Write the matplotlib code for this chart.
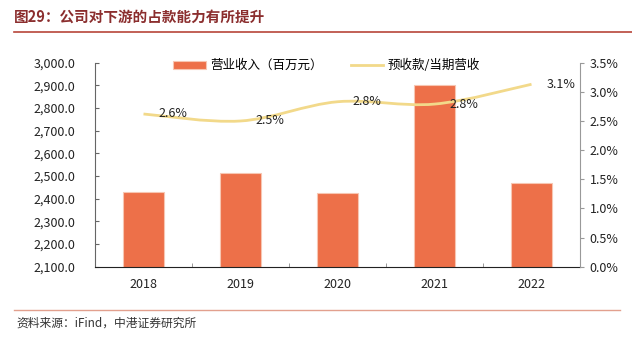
import matplotlib
matplotlib.use('Agg')
import matplotlib.pyplot as plt
from matplotlib.path import Path
from matplotlib.patches import PathPatch, Patch
from matplotlib.lines import Line2D
from matplotlib.ticker import FuncFormatter, MultipleLocator, FixedLocator
import numpy as np

years = ['2018', '2019', '2020', '2021', '2022']
revenue = [2428, 2512, 2426, 2902, 2468]
ratio = [2.62, 2.50, 2.83, 2.79, 3.13]
ratio_labels = ['2.6%', '2.5%', '2.8%', '2.8%', '3.1%']
title = '图29：公司对下游的占款能力有所提升'
source = '资料来源：iFind，中港证券研究所'
bar_name = '营业收入（百万元）'
line_name = '预收款/当期营收'

plt.rcParams['font.family'] = ['Noto Sans CJK SC', 'DejaVu Sans']

W, H = 632, 340
fig = plt.figure(figsize=(W / 100, H / 100), dpi=100)
ax = fig.add_axes([95 / W, 1 - 266.7 / H, (580 - 95) / W, (266.7 - 62.7) / H])

bar_color = '#ED7049'
line_color = '#F2D98A'
x = np.arange(len(years))
ax.bar(x, revenue, width=0.42, color=bar_color, edgecolor='#F7C6B2', linewidth=0.8, zorder=2)
ax.set_xlim(-0.5, len(years) - 0.5)
ax.set_ylim(2100, 3000)
ax.yaxis.set_major_locator(MultipleLocator(100))
ax.yaxis.set_major_formatter(FuncFormatter(lambda v, p: f'{v:,.1f}'))
ax.set_xticks(x)
ax.set_xticklabels(years)
ax.xaxis.set_minor_locator(FixedLocator(np.arange(-0.5, len(years), 1.0)))
ax.tick_params(axis='x', which='major', length=0, pad=8, labelsize=9, colors='#222222')
ax.tick_params(axis='x', which='minor', length=3, direction='in', color='#888888')
ax.tick_params(axis='y', direction='in', length=3, labelsize=9, pad=14, colors='#222222', color='#666666')
for s in ['top', 'right']:
    ax.spines[s].set_visible(False)
ax.spines['left'].set_color('#666666')
ax.spines['bottom'].set_color('#222222')

ax2 = ax.twinx()
ax2.set_ylim(0, 3.5)
ax2.yaxis.set_major_locator(MultipleLocator(0.5))
ax2.yaxis.set_major_formatter(FuncFormatter(lambda v, p: f'{v:.1f}%'))
ax2.tick_params(axis='y', direction='out', length=3, labelsize=9, pad=4, colors='#222222', color='#999999')
for s in ['top', 'left', 'bottom']:
    ax2.spines[s].set_visible(False)
ax2.spines['right'].set_color('#999999')

# smooth line (Catmull-Rom to Bezier) through data points
pts = np.column_stack([x, ratio]).astype(float)
n = len(pts)
verts = [pts[0]]
codes = [Path.MOVETO]
for i in range(n - 1):
    p0 = pts[i - 1] if i > 0 else pts[i]
    p1 = pts[i]
    p2 = pts[i + 1]
    p3 = pts[i + 2] if i + 2 < n else pts[i + 1]
    c1 = p1 + (p2 - p0) / 6.0
    c2 = p2 - (p3 - p1) / 6.0
    verts += [c1, c2, p2]
    codes += [Path.CURVE4] * 3
ax2.add_patch(PathPatch(Path(verts, codes), facecolor='none', edgecolor=line_color, lw=2.0, zorder=3))

for xi, yi, lab in zip(x, ratio, ratio_labels):
    ax2.annotate(lab, (xi, yi), xytext=(11, 0), textcoords='offset points',
                 ha='left', va='center', fontsize=9, color='#222222', zorder=4)

handles = [Patch(facecolor=bar_color, edgecolor='#F7C6B2', linewidth=0.8),
           Line2D([0], [0], color=line_color, lw=2.0)]
fig.legend(handles, [bar_name, line_name], loc='center', bbox_to_anchor=(0.517, 1 - 65.7 / H),
           ncol=2, frameon=False, fontsize=9, handlelength=2.6, handleheight=0.6,
           columnspacing=2.2, handletextpad=0.4)

fig.text(14 / W, 1 - 17 / H, title, ha='left', va='center', fontsize=10.5, fontweight='bold', color='#8B2E2E')
fig.add_artist(Line2D([14 / W, 1.0], [1 - 32 / H] * 2, color='#B8453A', lw=1.2))
fig.add_artist(Line2D([14 / W, 620 / W], [1 - 310 / H] * 2, color='#E2A08E', lw=1.0))
fig.text(16 / W, 1 - 323 / H, source, ha='left', va='center', fontsize=8.5, style='italic', color='#333333')

fig.savefig('out.png', dpi=100)
